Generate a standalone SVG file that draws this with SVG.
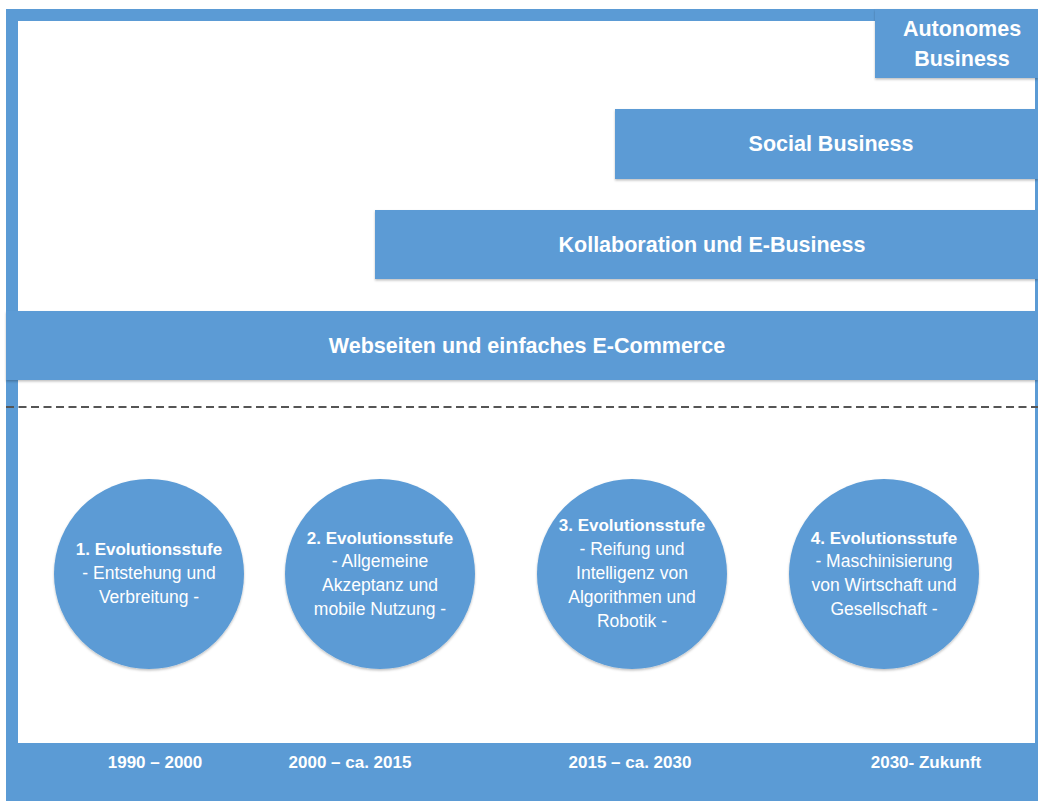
<svg xmlns="http://www.w3.org/2000/svg" width="1038" height="801" viewBox="0 0 1038 801">
  <defs>
    <filter id="shadow" x="-5%" y="-10%" width="110%" height="130%">
      <feDropShadow dx="0" dy="1.5" stdDeviation="1.2" flood-color="#000" flood-opacity="0.25"/>
    </filter>
  </defs>
  <style>
    .blue { fill: #5B9BD5; }
    .panel { fill: #FFFFFF; }
    .bar { fill: #5B9BD5; filter: url(#shadow); }
    .stage { fill: #5B9BD5; filter: url(#shadow); }
    .title { font-family: "Liberation Sans", Arial, sans-serif; font-weight: bold; font-size: 21.5px; fill: #FFFFFF; text-anchor: middle; }
    .head { font-family: "Liberation Sans", Arial, sans-serif; font-weight: bold; font-size: 17px; fill: #FFFFFF; text-anchor: middle; }
    .body { font-family: "Liberation Sans", Arial, sans-serif; font-size: 17.5px; fill: #FFFFFF; text-anchor: middle; }
    .year { font-family: "Liberation Sans", Arial, sans-serif; font-weight: bold; font-size: 17px; fill: #FFFFFF; text-anchor: middle; }
    .divider { stroke: #555555; stroke-width: 1.8; stroke-dasharray: 8 4.5; fill: none; }
  </style>

  <!-- frame -->
  <g id="frame">
    <rect class="blue" x="6" y="9" width="1032" height="792"/>
    <rect class="panel" x="18" y="21" width="1017" height="290"/>
    <rect class="panel" x="18" y="380" width="1017" height="363"/>
  </g>

  <!-- layered stages -->
  <g id="autonomes-business">
    <rect class="bar" x="875" y="9" width="163" height="69"/>
    <text class="title" x="962" y="36">Autonomes</text>
    <text class="title" x="962" y="66">Business</text>
  </g>
  <g id="social-business">
    <rect class="bar" x="615" y="109" width="423" height="70"/>
    <text class="title" x="831" y="151">Social Business</text>
  </g>
  <g id="kollaboration">
    <rect class="bar" x="375" y="210" width="663" height="69"/>
    <text class="title" x="712" y="252">Kollaboration und E-Business</text>
  </g>
  <g id="webseiten">
    <rect class="bar" x="6" y="311" width="1032" height="69"/>
    <text class="title" x="527" y="353">Webseiten und einfaches E-Commerce</text>
  </g>

  <g id="connectors">
    <line class="divider" x1="6" y1="407" x2="1038" y2="407"/>
  </g>

  <!-- evolution stages -->
  <g id="stufe-1">
    <circle class="stage" cx="149" cy="574" r="95"/>
    <text class="head" x="149" y="555">1. Evolutionsstufe</text>
    <text class="body" x="149" y="579">- Entstehung und</text>
    <text class="body" x="149" y="603">Verbreitung -</text>
  </g>
  <g id="stufe-2">
    <circle class="stage" cx="380" cy="574" r="95"/>
    <text class="head" x="380" y="544">2. Evolutionsstufe</text>
    <text class="body" x="380" y="567">- Allgemeine</text>
    <text class="body" x="380" y="591">Akzeptanz und</text>
    <text class="body" x="380" y="615">mobile Nutzung -</text>
  </g>
  <g id="stufe-3">
    <circle class="stage" cx="632" cy="574" r="95"/>
    <text class="head" x="632" y="531">3. Evolutionsstufe</text>
    <text class="body" x="632" y="555">- Reifung und</text>
    <text class="body" x="632" y="579">Intelligenz von</text>
    <text class="body" x="632" y="603">Algorithmen und</text>
    <text class="body" x="632" y="627">Robotik -</text>
  </g>
  <g id="stufe-4">
    <circle class="stage" cx="884" cy="574" r="95"/>
    <text class="head" x="884" y="544">4. Evolutionsstufe</text>
    <text class="body" x="884" y="567">- Maschinisierung</text>
    <text class="body" x="884" y="591">von Wirtschaft und</text>
    <text class="body" x="884" y="615">Gesellschaft -</text>
  </g>

  <!-- time periods -->
  <g id="zeitraeume">
    <text class="year" x="155" y="768">1990 – 2000</text>
    <text class="year" x="350" y="768">2000 – ca. 2015</text>
    <text class="year" x="630" y="768">2015 – ca. 2030</text>
    <text class="year" x="926" y="768">2030- Zukunft</text>
  </g>
</svg>
